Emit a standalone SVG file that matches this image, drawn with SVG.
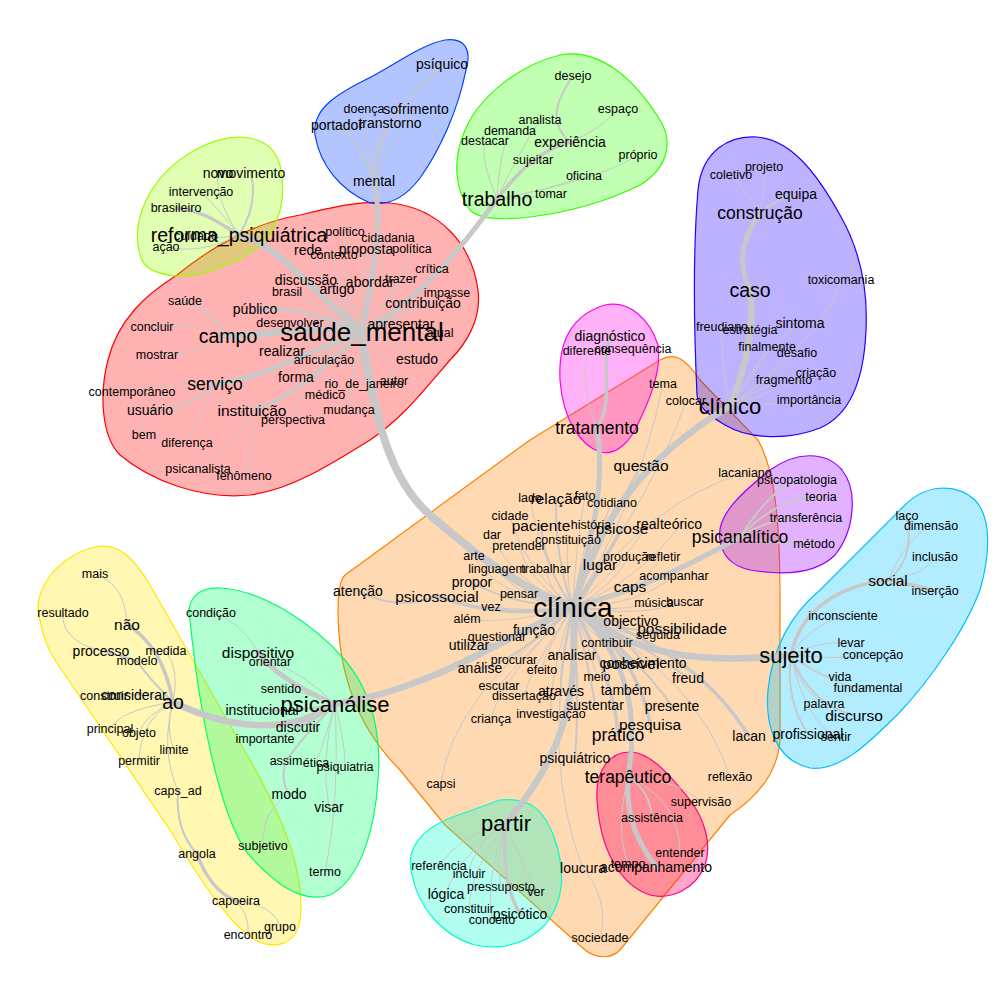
<svg xmlns="http://www.w3.org/2000/svg" width="1000" height="1000" viewBox="0 0 1000 1000">
<style>
.bl{stroke-width:1.2}
.e{fill:none;stroke:#c8c8c8;stroke-linecap:round}
.w1{stroke-width:1}.w2{stroke-width:2}.w3{stroke-width:3.5}.w4{stroke-width:5}.w5{stroke-width:6.5}.w6{stroke-width:8}
text{font-family:"Liberation Sans",Arial,sans-serif;text-anchor:middle;dominant-baseline:central;fill:#000}
.a{font-size:12.5px}.b{font-size:14px}.c{font-size:15.5px}.d{font-size:17.5px}.e1{font-size:19.5px}.f{font-size:22px}.g{font-size:26px}.h{font-size:28px}
</style>
<rect width="1000" height="1000" fill="#fff"/>
<g id="halos">
<path class="bl" fill="#FF0000" fill-opacity="0.3" stroke="#FF0000" d="M177,275 C220,240 260,222 300,215 C330,208 360,200 390,203 C440,208 472,245 478,290 C482,320 465,345 450,360 C420,395 400,420 370,440 C330,465 290,490 250,495 C200,500 150,480 120,455 C100,435 100,390 108,360 C118,320 145,295 177,275 Z"/>
<path class="bl" fill="#99FF00" fill-opacity="0.3" stroke="#99FF00" d="M140,255 C130,220 150,175 195,150 C235,128 272,135 280,165 C287,195 280,225 262,245 C240,262 200,278 175,276 C155,274 143,268 140,255 Z"/>
<path class="bl" fill="#0040FF" fill-opacity="0.3" stroke="#0040FF" d="M370,203 C340,190 320,165 315,135 C312,110 335,95 365,80 C395,65 420,45 445,40 C465,37 472,50 466,70 C458,110 440,150 420,178 C405,198 388,206 370,203 Z"/>
<path class="bl" fill="#33FF00" fill-opacity="0.3" stroke="#33FF00" d="M470,210 C455,190 452,160 465,130 C480,95 520,65 560,55 C600,47 635,80 660,120 C675,145 665,170 640,185 C610,200 570,212 530,217 C505,220 480,220 470,210 Z"/>
<path class="bl" fill="#FF8000" fill-opacity="0.3" stroke="#FF8000" d="M345,575 L530,440 L660,360 C675,352 685,358 700,380 L758,440 C775,470 780,520 780,600 L780,740 C778,770 760,795 730,815 L620,950 C610,960 595,958 585,950 L445,825 L400,770 C350,720 338,660 338,610 C338,590 340,580 345,575 Z"/>
<path class="bl" fill="#2600FF" fill-opacity="0.3" stroke="#2600FF" d="M697,395 C694,330 693,250 698,190 C702,150 730,135 757,137 C790,140 815,170 840,215 C860,250 868,290 866,330 C864,380 850,415 820,428 C790,440 750,440 725,425 C705,413 698,405 697,395 Z"/>
<path class="bl" fill="#FF00E6" fill-opacity="0.3" stroke="#FF00E6" d="M600,452 C580,445 563,420 560,380 C558,340 572,315 605,305 C630,300 650,320 658,345 C662,370 650,400 635,430 C625,448 612,455 600,452 Z"/>
<path class="bl" fill="#9900FF" fill-opacity="0.3" stroke="#9900FF" d="M720,540 C715,515 745,490 770,470 C795,452 825,450 842,470 C858,490 855,530 835,555 C815,575 780,575 750,570 C732,566 722,555 720,540 Z"/>
<path class="bl" fill="#00BFFF" fill-opacity="0.3" stroke="#00BFFF" d="M810,768 C775,760 765,725 768,690 C772,650 790,615 820,590 L905,505 C925,485 955,482 975,500 C992,518 990,555 980,590 C965,630 930,680 900,712 C870,742 840,772 810,768 Z"/>
<path class="bl" fill="#FFE600" fill-opacity="0.3" stroke="#FFE600" d="M40,620 C30,590 60,555 95,547 C120,542 135,560 150,585 L250,760 C290,830 305,880 300,920 C296,945 275,950 255,940 C230,925 200,880 170,830 L55,660 C45,645 42,632 40,620 Z"/>
<path class="bl" fill="#00FF66" fill-opacity="0.3" stroke="#00FF66" d="M190,620 C185,598 200,587 220,588 C260,590 310,620 345,660 C370,690 382,730 378,780 C375,830 360,880 330,895 C300,905 270,880 245,850 C220,810 200,720 190,620 Z"/>
<path class="bl" fill="#00FFCC" fill-opacity="0.3" stroke="#00FFCC" d="M412,875 C405,850 420,830 450,818 L500,800 C530,797 545,810 555,840 C565,870 565,900 545,925 C525,945 500,950 475,945 C440,935 418,905 412,875 Z"/>
<path class="bl" fill="#FF0066" fill-opacity="0.35" stroke="#FF0080" d="M597,800 C595,770 610,752 630,752 C650,752 670,775 690,800 C705,820 712,845 705,865 C695,890 670,900 650,895 C620,885 600,850 597,800 Z"/>
</g>
<g id="edges">
<path class="e w6" d="M362,335 C375,420 390,480 430,515 C470,550 520,590 573,607"/>
<path class="e w5" d="M573,607 C600,520 640,460 730,406"/>
<path class="e w4" d="M573,607 C595,530 605,480 597,428"/>
<path class="e w3" d="M597,428 C615,400 600,370 610,336"/>
<path class="e w1" d="M597,428 Q580,390 587,351"/>
<path class="e w1" d="M610,336 Q625,345 633,349"/>
<path class="e w4" d="M573,607 C640,590 690,565 740,537"/>
<path class="e w2" d="M740,537 Q770,490 797,480"/>
<path class="e w2" d="M740,537 Q780,495 821,497"/>
<path class="e w2" d="M740,537 Q775,515 806,518"/>
<path class="e w2" d="M740,537 Q780,545 814,544"/>
<path class="e w1" d="M573,607 Q650,500 745,473"/>
<path class="e w5" d="M573,607 C630,655 700,665 791,655"/>
<path class="e w3" d="M791,655 C800,610 840,585 888,580"/>
<path class="e w2" d="M888,580 Q915,560 907,516"/>
<path class="e w1" d="M888,580 Q905,540 931,526"/>
<path class="e w1" d="M888,580 Q925,575 935,557"/>
<path class="e w3" d="M888,580 Q915,585 935,591"/>
<path class="e w1" d="M791,655 Q810,625 843,616"/>
<path class="e w1" d="M791,655 Q820,640 851,643"/>
<path class="e w1" d="M791,655 Q840,660 873,655"/>
<path class="e w1" d="M791,655 Q820,680 840,677"/>
<path class="e w1" d="M791,655 Q840,690 868,688"/>
<path class="e w1" d="M791,655 Q800,690 824,704"/>
<path class="e w2" d="M791,655 Q810,705 854,715"/>
<path class="e w2" d="M791,655 Q785,700 808,734"/>
<path class="e w1" d="M791,655 Q805,720 836,737"/>
<path class="e w5" d="M573,607 C500,640 430,690 335,704"/>
<path class="e w5" d="M335,704 C290,735 230,730 173,702"/>
<path class="e w4" d="M335,704 C300,690 270,670 258,652"/>
<path class="e w1" d="M258,652 Q240,620 211,613"/>
<path class="e w1" d="M335,704 Q300,670 270,662"/>
<path class="e w1" d="M335,704 Q300,690 281,689"/>
<path class="e w2" d="M335,704 Q300,712 262,710"/>
<path class="e w2" d="M335,704 Q315,720 298,727"/>
<path class="e w1" d="M335,704 Q300,735 265,739"/>
<path class="e w2" d="M335,704 Q300,740 286,761"/>
<path class="e w1" d="M335,704 Q325,740 316,763"/>
<path class="e w1" d="M335,704 Q345,740 345,767"/>
<path class="e w2" d="M286,761 Q280,780 289,794"/>
<path class="e w1" d="M335,704 Q320,760 329,807"/>
<path class="e w1" d="M335,704 Q340,800 325,872"/>
<path class="e w1" d="M289,794 Q262,810 263,846"/>
<path class="e w3" d="M173,702 C165,660 150,640 127,624"/>
<path class="e w1" d="M127,624 C125,590 110,580 95,574"/>
<path class="e w1" d="M173,702 Q180,670 166,651"/>
<path class="e w2" d="M173,702 Q150,680 137,661"/>
<path class="e w2" d="M137,661 Q120,655 101,651"/>
<path class="e w1" d="M101,651 Q60,640 63,613"/>
<path class="e w1" d="M173,702 Q150,690 134,695"/>
<path class="e w1" d="M173,702 Q130,690 104,696"/>
<path class="e w1" d="M173,702 Q120,710 110,729"/>
<path class="e w1" d="M173,702 Q145,715 139,733"/>
<path class="e w1" d="M173,702 Q165,730 174,750"/>
<path class="e w1" d="M173,702 Q140,720 139,761"/>
<path class="e w1" d="M173,702 Q160,750 178,791"/>
<path class="e w2" d="M178,791 Q175,830 197,854"/>
<path class="e w3" d="M197,854 Q210,890 236,901"/>
<path class="e w1" d="M236,901 Q250,915 248,935"/>
<path class="e w1" d="M236,901 Q275,905 280,927"/>
<path class="e w5" d="M573,607 C580,700 560,760 506,823"/>
<path class="e w3" d="M506,823 Q500,880 520,914"/>
<path class="e w1" d="M506,823 Q460,835 439,866"/>
<path class="e w1" d="M506,823 Q470,850 469,874"/>
<path class="e w1" d="M506,823 Q495,860 501,887"/>
<path class="e w1" d="M506,823 Q520,860 536,892"/>
<path class="e w1" d="M506,823 Q455,860 446,894"/>
<path class="e w1" d="M506,823 Q470,870 469,909"/>
<path class="e w1" d="M506,823 Q485,880 492,920"/>
<path class="e w4" d="M573,607 C625,650 640,710 628,777"/>
<path class="e w4" d="M628,777 C625,820 640,845 656,867"/>
<path class="e w2" d="M628,777 Q650,790 652,818"/>
<path class="e w1" d="M628,777 Q680,800 680,853"/>
<path class="e w1" d="M628,777 Q680,780 701,802"/>
<path class="e w1" d="M628,777 Q615,830 628,864"/>
<path class="e w1" d="M573,607 Q700,680 730,777"/>
<path class="e w5" d="M730,406 C745,370 755,330 750,290"/>
<path class="e w4" d="M750,290 C735,260 745,235 760,213"/>
<path class="e w2" d="M760,213 Q775,200 796,194"/>
<path class="e w1" d="M760,213 Q745,190 731,175"/>
<path class="e w1" d="M760,213 Q765,190 764,167"/>
<path class="e w1" d="M730,406 Q830,330 841,280"/>
<path class="e w1" d="M730,406 Q770,340 800,323"/>
<path class="e w1" d="M730,406 Q720,360 722,327"/>
<path class="e w1" d="M730,406 Q745,360 750,330"/>
<path class="e w1" d="M730,406 Q760,370 767,347"/>
<path class="e w1" d="M730,406 Q780,370 797,353"/>
<path class="e w1" d="M730,406 Q790,385 816,373"/>
<path class="e w1" d="M730,406 Q765,385 784,380"/>
<path class="e w1" d="M730,406 Q770,405 809,400"/>
<path class="e w1" d="M573,607 Q540,560 530,498"/>
<path class="e w2" d="M573,607 Q555,560 556,498"/>
<path class="e w1" d="M573,607 Q575,550 585,496"/>
<path class="e w1" d="M573,607 Q590,550 612,503"/>
<path class="e w1" d="M573,607 Q525,570 510,516"/>
<path class="e w2" d="M573,607 Q545,570 541,525"/>
<path class="e w1" d="M573,607 Q580,560 591,525"/>
<path class="e w3" d="M573,607 Q600,570 622,528"/>
<path class="e w1" d="M573,607 Q620,570 648,524"/>
<path class="e w1" d="M573,607 Q640,580 681,524"/>
<path class="e w1" d="M573,607 Q565,575 568,540"/>
<path class="e w1" d="M573,607 Q510,580 492,535"/>
<path class="e w1" d="M573,607 Q530,585 519,546"/>
<path class="e w1" d="M573,607 Q610,590 629,557"/>
<path class="e w1" d="M573,607 Q630,600 663,557"/>
<path class="e w1" d="M573,607 Q500,600 474,556"/>
<path class="e w1" d="M573,607 Q520,600 497,569"/>
<path class="e w1" d="M573,607 Q550,595 546,569"/>
<path class="e w3" d="M573,607 Q590,590 600,564"/>
<path class="e w1" d="M573,607 Q640,605 674,576"/>
<path class="e w2" d="M573,607 Q510,605 472,582"/>
<path class="e w3" d="M573,607 Q500,620 437,596"/>
<path class="e w2" d="M437,596 Q400,612 358,591"/>
<path class="e w1" d="M573,607 Q540,600 519,594"/>
<path class="e w2" d="M573,607 Q605,600 630,586"/>
<path class="e w1" d="M573,607 Q530,612 491,607"/>
<path class="e w1" d="M573,607 Q620,612 654,603"/>
<path class="e w1" d="M573,607 Q640,618 685,602"/>
<path class="e w1" d="M573,607 Q510,625 467,619"/>
<path class="e w2" d="M573,607 Q605,625 631,621"/>
<path class="e w2" d="M573,607 Q630,640 682,628"/>
<path class="e w2" d="M573,607 Q545,625 534,630"/>
<path class="e w1" d="M573,607 Q620,640 658,635"/>
<path class="e w1" d="M573,607 Q530,640 497,637"/>
<path class="e w2" d="M573,607 Q510,650 469,645"/>
<path class="e w1" d="M573,607 Q590,635 607,643"/>
<path class="e w2" d="M573,607 Q570,635 572,655"/>
<path class="e w1" d="M573,607 Q530,645 514,660"/>
<path class="e w2" d="M573,607 Q510,665 480,668"/>
<path class="e w1" d="M573,607 Q545,650 542,670"/>
<path class="e w3" d="M573,607 Q610,630 631,663"/>
<path class="e w2" d="M573,607 Q630,640 643,663"/>
<path class="e w1" d="M573,607 Q590,650 597,677"/>
<path class="e w2" d="M573,607 Q650,650 688,678"/>
<path class="e w1" d="M573,607 Q520,660 499,686"/>
<path class="e w2" d="M573,607 Q560,660 561,691"/>
<path class="e w2" d="M573,607 Q620,650 626,690"/>
<path class="e w1" d="M573,607 Q530,670 524,696"/>
<path class="e w2" d="M573,607 Q590,670 595,705"/>
<path class="e w2" d="M573,607 Q640,660 672,706"/>
<path class="e w1" d="M573,607 Q500,680 491,719"/>
<path class="e w1" d="M573,607 Q550,670 551,714"/>
<path class="e w3" d="M573,607 Q640,660 650,724"/>
<path class="e w3" d="M573,607 Q615,680 618,735"/>
<path class="e w3" d="M573,607 C680,650 720,690 749,736"/>
<path class="e w2" d="M573,607 Q580,700 575,758"/>
<path class="e w1" d="M573,607 Q450,700 441,784"/>
<path class="e w1" d="M573,607 Q540,760 583,868"/>
<path class="e w1" d="M583,868 Q610,900 600,938"/>
<path class="e w2" d="M573,607 Q610,520 641,465"/>
<path class="e w1" d="M573,607 Q640,500 663,384"/>
<path class="e w1" d="M573,607 Q660,480 686,401"/>
<path class="e w5" d="M362,332 C310,290 280,245 239,235"/>
<path class="e w4" d="M362,332 C370,280 385,230 374,181"/>
<path class="e w4" d="M362,332 C420,300 460,250 497,199"/>
<path class="e w5" d="M362,332 C310,325 270,335 228,336"/>
<path class="e w4" d="M362,332 C310,350 260,380 215,384"/>
<path class="e w3" d="M362,332 C320,370 290,400 252,410"/>
<path class="e w3" d="M362,332 Q300,305 255,309"/>
<path class="e w1" d="M362,332 Q340,280 345,232"/>
<path class="e w1" d="M362,332 Q380,280 388,238"/>
<path class="e w1" d="M362,332 Q320,280 308,250"/>
<path class="e w1" d="M362,332 Q335,290 334,255"/>
<path class="e w1" d="M362,332 Q360,290 366,249"/>
<path class="e w1" d="M362,332 Q400,290 412,249"/>
<path class="e w1" d="M362,332 Q420,300 432,269"/>
<path class="e w1" d="M362,332 Q320,300 306,280"/>
<path class="e w1" d="M362,332 Q365,300 370,282"/>
<path class="e w1" d="M362,332 Q390,300 401,279"/>
<path class="e w1" d="M362,332 Q310,300 287,292"/>
<path class="e w1" d="M362,332 Q340,300 337,289"/>
<path class="e w1" d="M362,332 Q420,310 447,293"/>
<path class="e w1" d="M362,332 Q400,315 423,303"/>
<path class="e w1" d="M362,332 Q320,320 290,323"/>
<path class="e w1" d="M362,332 Q390,320 401,324"/>
<path class="e w1" d="M362,332 Q410,335 440,333"/>
<path class="e w1" d="M362,332 Q310,340 282,351"/>
<path class="e w1" d="M362,332 Q330,345 324,360"/>
<path class="e w1" d="M362,332 Q400,345 417,359"/>
<path class="e w1" d="M362,332 Q310,360 296,377"/>
<path class="e w1" d="M362,332 Q360,360 364,384"/>
<path class="e w1" d="M362,332 Q390,360 394,381"/>
<path class="e w1" d="M362,332 Q330,370 325,395"/>
<path class="e w1" d="M362,332 Q350,380 349,410"/>
<path class="e w1" d="M362,332 Q300,390 293,420"/>
<path class="e w2" d="M228,336 Q210,310 185,301"/>
<path class="e w1" d="M228,336 Q190,320 152,327"/>
<path class="e w1" d="M228,336 Q200,355 157,355"/>
<path class="e w1" d="M215,384 Q170,380 132,392"/>
<path class="e w2" d="M215,384 Q190,410 150,410"/>
<path class="e w1" d="M150,410 Q140,420 144,435"/>
<path class="e w1" d="M215,384 Q200,420 187,443"/>
<path class="e w1" d="M252,410 Q230,450 198,469"/>
<path class="e w1" d="M252,410 Q255,450 244,476"/>
<path class="e w3" d="M239,235 C215,220 200,210 176,208"/>
<path class="e w2" d="M239,235 C255,210 255,190 251,173"/>
<path class="e w1" d="M239,235 Q215,200 218,173"/>
<path class="e w1" d="M239,235 Q215,205 201,192"/>
<path class="e w1" d="M239,235 Q215,240 196,236"/>
<path class="e w1" d="M239,235 Q200,255 166,247"/>
<path class="e w2" d="M374,181 C370,130 410,100 442,64"/>
<path class="e w1" d="M374,181 Q395,140 416,109"/>
<path class="e w1" d="M374,181 Q380,150 390,123"/>
<path class="e w1" d="M374,181 Q365,140 364,109"/>
<path class="e w2" d="M374,181 Q360,140 337,125"/>
<path class="e w3" d="M497,199 C520,170 540,150 570,142"/>
<path class="e w2" d="M497,199 Q515,175 533,160"/>
<path class="e w2" d="M570,142 C545,120 560,95 573,76"/>
<path class="e w1" d="M497,199 Q520,150 540,120"/>
<path class="e w1" d="M497,199 Q500,150 510,131"/>
<path class="e w1" d="M497,199 Q480,160 485,141"/>
<path class="e w1" d="M497,199 Q520,200 551,194"/>
<path class="e w1" d="M497,199 Q550,190 584,176"/>
<path class="e w1" d="M497,199 Q600,180 638,155"/>
<path class="e w1" d="M570,142 Q600,130 618,109"/>
</g>
<g id="n-reforma"><text class="e1" x="239" y="235">reforma_psiquiátrica</text></g>
<g id="n-novo"><text class="b" x="218" y="173">novo</text></g>
<g id="n-movimento"><text class="b" x="251" y="173">movimento</text></g>
<g id="n-intervencao"><text class="a" x="201" y="192">intervenção</text></g>
<g id="n-brasileiro"><text class="a" x="176" y="208">brasileiro</text></g>
<g id="n-cuidado"><text class="a" x="196" y="236">cuidado</text></g>
<g id="n-acao"><text class="a" x="166" y="247">ação</text></g>
<g id="n-saude_mental"><text class="g" x="362" y="332">saúde_mental</text></g>
<g id="n-politico"><text class="a" x="345" y="232">político</text></g>
<g id="n-cidadania"><text class="a" x="388" y="238">cidadania</text></g>
<g id="n-rede"><text class="b" x="308" y="250">rede</text></g>
<g id="n-contexto"><text class="a" x="334" y="255">contexto</text></g>
<g id="n-proposta"><text class="b" x="366" y="249">proposta</text></g>
<g id="n-politica"><text class="a" x="412" y="249">política</text></g>
<g id="n-critica"><text class="a" x="432" y="269">crítica</text></g>
<g id="n-discussao"><text class="b" x="306" y="280">discussão</text></g>
<g id="n-abordar"><text class="b" x="370" y="282">abordar</text></g>
<g id="n-trazer"><text class="a" x="401" y="279">trazer</text></g>
<g id="n-brasil"><text class="a" x="287" y="292">brasil</text></g>
<g id="n-artigo"><text class="b" x="337" y="289">artigo</text></g>
<g id="n-impasse"><text class="a" x="447" y="293">impasse</text></g>
<g id="n-contribuicao"><text class="b" x="423" y="303">contribuição</text></g>
<g id="n-desenvolver"><text class="a" x="290" y="323">desenvolver</text></g>
<g id="n-apresentar"><text class="b" x="401" y="324">apresentar</text></g>
<g id="n-atual"><text class="a" x="440" y="333">atual</text></g>
<g id="n-realizar"><text class="b" x="282" y="351">realizar</text></g>
<g id="n-articulacao"><text class="a" x="324" y="360">articulação</text></g>
<g id="n-estudo"><text class="b" x="417" y="359">estudo</text></g>
<g id="n-forma"><text class="b" x="296" y="377">forma</text></g>
<g id="n-rio"><text class="a" x="364" y="384">rio_de_janeiro</text></g>
<g id="n-autor"><text class="a" x="394" y="381">autor</text></g>
<g id="n-medico"><text class="a" x="325" y="395">médico</text></g>
<g id="n-mudanca"><text class="a" x="349" y="410">mudança</text></g>
<g id="n-perspectiva"><text class="a" x="293" y="420">perspectiva</text></g>
<g id="n-saude"><text class="a" x="185" y="301">saúde</text></g>
<g id="n-publico"><text class="b" x="255" y="309">público</text></g>
<g id="n-concluir"><text class="a" x="152" y="327">concluir</text></g>
<g id="n-campo"><text class="e1" x="228" y="336">campo</text></g>
<g id="n-mostrar"><text class="a" x="157" y="355">mostrar</text></g>
<g id="n-servico"><text class="d" x="215" y="384">serviço</text></g>
<g id="n-contemporaneo"><text class="a" x="132" y="392">contemporâneo</text></g>
<g id="n-usuario"><text class="b" x="150" y="410">usuário</text></g>
<g id="n-instituicao"><text class="c" x="252" y="410">instituição</text></g>
<g id="n-bem"><text class="a" x="144" y="435">bem</text></g>
<g id="n-diferenca"><text class="a" x="187" y="443">diferença</text></g>
<g id="n-psicanalista"><text class="a" x="198" y="469">psicanalista</text></g>
<g id="n-fenomeno"><text class="a" x="244" y="476">fenômeno</text></g>
<g id="n-psiquico"><text class="b" x="442" y="64">psíquico</text></g>
<g id="n-doenca"><text class="a" x="364" y="109">doença</text></g>
<g id="n-sofrimento"><text class="b" x="416" y="109">sofrimento</text></g>
<g id="n-portador"><text class="b" x="337" y="125">portador</text></g>
<g id="n-transtorno"><text class="b" x="390" y="123">transtorno</text></g>
<g id="n-mental"><text class="b" x="374" y="181">mental</text></g>
<g id="n-desejo"><text class="a" x="573" y="76">desejo</text></g>
<g id="n-espaco"><text class="a" x="618" y="109">espaço</text></g>
<g id="n-analista"><text class="a" x="540" y="120">analista</text></g>
<g id="n-demanda"><text class="a" x="510" y="131">demanda</text></g>
<g id="n-destacar"><text class="a" x="485" y="141">destacar</text></g>
<g id="n-experiencia"><text class="b" x="570" y="142">experiência</text></g>
<g id="n-proprio"><text class="a" x="638" y="155">próprio</text></g>
<g id="n-sujeitar"><text class="a" x="533" y="160">sujeitar</text></g>
<g id="n-oficina"><text class="a" x="584" y="176">oficina</text></g>
<g id="n-tomar"><text class="a" x="551" y="194">tomar</text></g>
<g id="n-trabalho"><text class="e1" x="497" y="199">trabalho</text></g>
<g id="n-coletivo"><text class="a" x="731" y="175">coletivo</text></g>
<g id="n-projeto"><text class="a" x="764" y="167">projeto</text></g>
<g id="n-equipa"><text class="b" x="796" y="194">equipa</text></g>
<g id="n-construcao"><text class="d" x="760" y="213">construção</text></g>
<g id="n-toxicomania"><text class="a" x="841" y="280">toxicomania</text></g>
<g id="n-caso"><text class="e1" x="750" y="290">caso</text></g>
<g id="n-freudiano"><text class="a" x="722" y="327">freudiano</text></g>
<g id="n-estrategia"><text class="a" x="750" y="330">estratégia</text></g>
<g id="n-sintoma"><text class="b" x="800" y="323">sintoma</text></g>
<g id="n-finalmente"><text class="a" x="767" y="347">finalmente</text></g>
<g id="n-desafio"><text class="a" x="797" y="353">desafio</text></g>
<g id="n-criacao"><text class="a" x="816" y="373">criação</text></g>
<g id="n-fragmento"><text class="a" x="784" y="380">fragmento</text></g>
<g id="n-importancia"><text class="a" x="809" y="400">importância</text></g>
<g id="n-clinico"><text class="f" x="730" y="406">clínico</text></g>
<g id="n-diagnostico"><text class="b" x="610" y="336">diagnóstico</text></g>
<g id="n-diferente"><text class="a" x="587" y="351">diferente</text></g>
<g id="n-consequencia"><text class="a" x="633" y="349">consequência</text></g>
<g id="n-colocar"><text class="a" x="686" y="401">colocar</text></g>
<g id="n-tema"><text class="a" x="663" y="384">tema</text></g>
<g id="n-tratamento"><text class="d" x="597" y="428">tratamento</text></g>
<g id="n-questao"><text class="c" x="641" y="465">questão</text></g>
<g id="n-lacaniano"><text class="a" x="745" y="473">lacaniano</text></g>
<g id="n-lado"><text class="a" x="530" y="498">lado</text></g>
<g id="n-relacao"><text class="c" x="556" y="498">relação</text></g>
<g id="n-fato"><text class="a" x="585" y="496">fato</text></g>
<g id="n-cotidiano"><text class="a" x="612" y="503">cotidiano</text></g>
<g id="n-cidade"><text class="a" x="510" y="516">cidade</text></g>
<g id="n-paciente"><text class="c" x="541" y="525">paciente</text></g>
<g id="n-historia"><text class="a" x="591" y="525">história</text></g>
<g id="n-psicose"><text class="c" x="622" y="528">psicose</text></g>
<g id="n-real"><text class="b" x="648" y="524">real</text></g>
<g id="n-teorico"><text class="b" x="681" y="524">teórico</text></g>
<g id="n-constituicao"><text class="a" x="568" y="540">constituição</text></g>
<g id="n-dar"><text class="a" x="492" y="535">dar</text></g>
<g id="n-pretender"><text class="a" x="519" y="546">pretender</text></g>
<g id="n-producao"><text class="a" x="629" y="557">produção</text></g>
<g id="n-refletir"><text class="a" x="663" y="557">refletir</text></g>
<g id="n-arte"><text class="a" x="474" y="556">arte</text></g>
<g id="n-linguagem"><text class="a" x="497" y="569">linguagem</text></g>
<g id="n-trabalhar"><text class="a" x="546" y="569">trabalhar</text></g>
<g id="n-lugar"><text class="c" x="600" y="564">lugar</text></g>
<g id="n-acompanhar"><text class="a" x="674" y="576">acompanhar</text></g>
<g id="n-propor"><text class="b" x="472" y="582">propor</text></g>
<g id="n-atencao"><text class="b" x="358" y="591">atenção</text></g>
<g id="n-psicossocial"><text class="c" x="437" y="596">psicossocial</text></g>
<g id="n-pensar"><text class="a" x="519" y="594">pensar</text></g>
<g id="n-caps"><text class="c" x="630" y="586">caps</text></g>
<g id="n-vez"><text class="a" x="491" y="607">vez</text></g>
<g id="n-clinica"><text class="h" x="573" y="607">clínica</text></g>
<g id="n-musica"><text class="a" x="654" y="603">música</text></g>
<g id="n-buscar"><text class="a" x="685" y="602">buscar</text></g>
<g id="n-alem"><text class="a" x="467" y="619">além</text></g>
<g id="n-objectivo"><text class="b" x="631" y="621">objectivo</text></g>
<g id="n-possibilidade"><text class="c" x="682" y="628">possibilidade</text></g>
<g id="n-funcao"><text class="b" x="534" y="630">função</text></g>
<g id="n-seguida"><text class="a" x="658" y="635">seguida</text></g>
<g id="n-questionar"><text class="a" x="497" y="637">questionar</text></g>
<g id="n-utilizar"><text class="b" x="469" y="645">utilizar</text></g>
<g id="n-contribuir"><text class="a" x="607" y="643">contribuir</text></g>
<g id="n-analisar"><text class="b" x="572" y="655">analisar</text></g>
<g id="n-procurar"><text class="a" x="514" y="660">procurar</text></g>
<g id="n-analise"><text class="b" x="480" y="668">análise</text></g>
<g id="n-efeito"><text class="a" x="542" y="670">efeito</text></g>
<g id="n-possivel"><text class="c" x="631" y="663">possível</text></g>
<g id="n-conhecimento"><text class="b" x="643" y="663">conhecimento</text></g>
<g id="n-meio"><text class="a" x="597" y="677">meio</text></g>
<g id="n-freud"><text class="b" x="688" y="678">freud</text></g>
<g id="n-escutar"><text class="a" x="499" y="686">escutar</text></g>
<g id="n-atraves"><text class="b" x="561" y="691">através</text></g>
<g id="n-tambem"><text class="b" x="626" y="690">também</text></g>
<g id="n-dissertacao"><text class="a" x="524" y="696">dissertação</text></g>
<g id="n-sustentar"><text class="b" x="595" y="705">sustentar</text></g>
<g id="n-presente"><text class="b" x="672" y="706">presente</text></g>
<g id="n-crianca"><text class="a" x="491" y="719">criança</text></g>
<g id="n-investigacao"><text class="a" x="551" y="714">investigação</text></g>
<g id="n-pesquisa"><text class="c" x="650" y="724">pesquisa</text></g>
<g id="n-pratico"><text class="d" x="618" y="735">prático</text></g>
<g id="n-lacan"><text class="b" x="749" y="736">lacan</text></g>
<g id="n-psiquiatrico"><text class="b" x="575" y="758">psiquiátrico</text></g>
<g id="n-terapeutico"><text class="d" x="628" y="777">terapêutico</text></g>
<g id="n-reflexao"><text class="a" x="730" y="777">reflexão</text></g>
<g id="n-capsi"><text class="a" x="441" y="784">capsi</text></g>
<g id="n-supervisao"><text class="a" x="701" y="802">supervisão</text></g>
<g id="n-assistencia"><text class="a" x="652" y="818">assistência</text></g>
<g id="n-entender"><text class="a" x="680" y="853">entender</text></g>
<g id="n-loucura"><text class="b" x="583" y="868">loucura</text></g>
<g id="n-tempo"><text class="a" x="628" y="864">tempo</text></g>
<g id="n-acompanhamento"><text class="b" x="656" y="867">acompanhamento</text></g>
<g id="n-sociedade"><text class="a" x="600" y="938">sociedade</text></g>
<g id="n-psicanalitico"><text class="d" x="740" y="537">psicanalítico</text></g>
<g id="n-psicopatologia"><text class="a" x="797" y="480">psicopatologia</text></g>
<g id="n-teoria"><text class="a" x="821" y="497">teoria</text></g>
<g id="n-transferencia"><text class="a" x="806" y="518">transferência</text></g>
<g id="n-metodo"><text class="a" x="814" y="544">método</text></g>
<g id="n-laco"><text class="a" x="907" y="516">laço</text></g>
<g id="n-dimensao"><text class="a" x="931" y="526">dimensão</text></g>
<g id="n-inclusao"><text class="a" x="935" y="557">inclusão</text></g>
<g id="n-social"><text class="c" x="888" y="580">social</text></g>
<g id="n-insercao"><text class="a" x="935" y="591">inserção</text></g>
<g id="n-inconsciente"><text class="a" x="843" y="616">inconsciente</text></g>
<g id="n-levar"><text class="a" x="851" y="643">levar</text></g>
<g id="n-concepcao"><text class="a" x="873" y="655">concepção</text></g>
<g id="n-sujeito"><text class="f" x="791" y="655">sujeito</text></g>
<g id="n-vida"><text class="a" x="840" y="677">vida</text></g>
<g id="n-fundamental"><text class="a" x="868" y="688">fundamental</text></g>
<g id="n-palavra"><text class="a" x="824" y="704">palavra</text></g>
<g id="n-discurso"><text class="c" x="854" y="715">discurso</text></g>
<g id="n-profissional"><text class="b" x="808" y="734">profissional</text></g>
<g id="n-sentir"><text class="a" x="836" y="737">sentir</text></g>
<g id="n-mais"><text class="a" x="95" y="574">mais</text></g>
<g id="n-resultado"><text class="a" x="63" y="613">resultado</text></g>
<g id="n-nao"><text class="c" x="127" y="624">não</text></g>
<g id="n-processo"><text class="b" x="101" y="651">processo</text></g>
<g id="n-medida"><text class="a" x="166" y="651">medida</text></g>
<g id="n-modelo"><text class="a" x="137" y="661">modelo</text></g>
<g id="n-considerar"><text class="b" x="134" y="695">considerar</text></g>
<g id="n-construir"><text class="a" x="104" y="696">construir</text></g>
<g id="n-ao"><text class="e1" x="173" y="702">ao</text></g>
<g id="n-principal"><text class="a" x="110" y="729">principal</text></g>
<g id="n-objeto"><text class="a" x="139" y="733">objeto</text></g>
<g id="n-limite"><text class="a" x="174" y="750">limite</text></g>
<g id="n-permitir"><text class="a" x="139" y="761">permitir</text></g>
<g id="n-caps_ad"><text class="a" x="178" y="791">caps_ad</text></g>
<g id="n-angola"><text class="a" x="197" y="854">angola</text></g>
<g id="n-capoeira"><text class="a" x="236" y="901">capoeira</text></g>
<g id="n-grupo"><text class="a" x="280" y="927">grupo</text></g>
<g id="n-encontro"><text class="a" x="248" y="935">encontro</text></g>
<g id="n-condicao"><text class="a" x="211" y="613">condição</text></g>
<g id="n-dispositivo"><text class="c" x="258" y="652">dispositivo</text></g>
<g id="n-orientar"><text class="a" x="270" y="662">orientar</text></g>
<g id="n-sentido"><text class="a" x="281" y="689">sentido</text></g>
<g id="n-psicanalise"><text class="f" x="335" y="704">psicanálise</text></g>
<g id="n-institucional"><text class="b" x="262" y="710">institucional</text></g>
<g id="n-discutir"><text class="b" x="298" y="727">discutir</text></g>
<g id="n-importante"><text class="a" x="265" y="739">importante</text></g>
<g id="n-assim"><text class="a" x="286" y="761">assim</text></g>
<g id="n-etica"><text class="a" x="316" y="763">ética</text></g>
<g id="n-psiquiatria"><text class="a" x="345" y="767">psiquiatria</text></g>
<g id="n-modo"><text class="b" x="289" y="794">modo</text></g>
<g id="n-visar"><text class="b" x="329" y="807">visar</text></g>
<g id="n-subjetivo"><text class="a" x="263" y="846">subjetivo</text></g>
<g id="n-termo"><text class="a" x="325" y="872">termo</text></g>
<g id="n-partir"><text class="f" x="506" y="823">partir</text></g>
<g id="n-referencia"><text class="a" x="439" y="866">referência</text></g>
<g id="n-incluir"><text class="a" x="469" y="874">incluir</text></g>
<g id="n-pressuposto"><text class="a" x="501" y="887">pressuposto</text></g>
<g id="n-ver"><text class="a" x="536" y="892">ver</text></g>
<g id="n-logica"><text class="b" x="446" y="894">lógica</text></g>
<g id="n-constituir"><text class="a" x="469" y="909">constituir</text></g>
<g id="n-psicotico"><text class="b" x="520" y="914">psicótico</text></g>
<g id="n-conceito"><text class="a" x="492" y="920">conceito</text></g>
</svg>
